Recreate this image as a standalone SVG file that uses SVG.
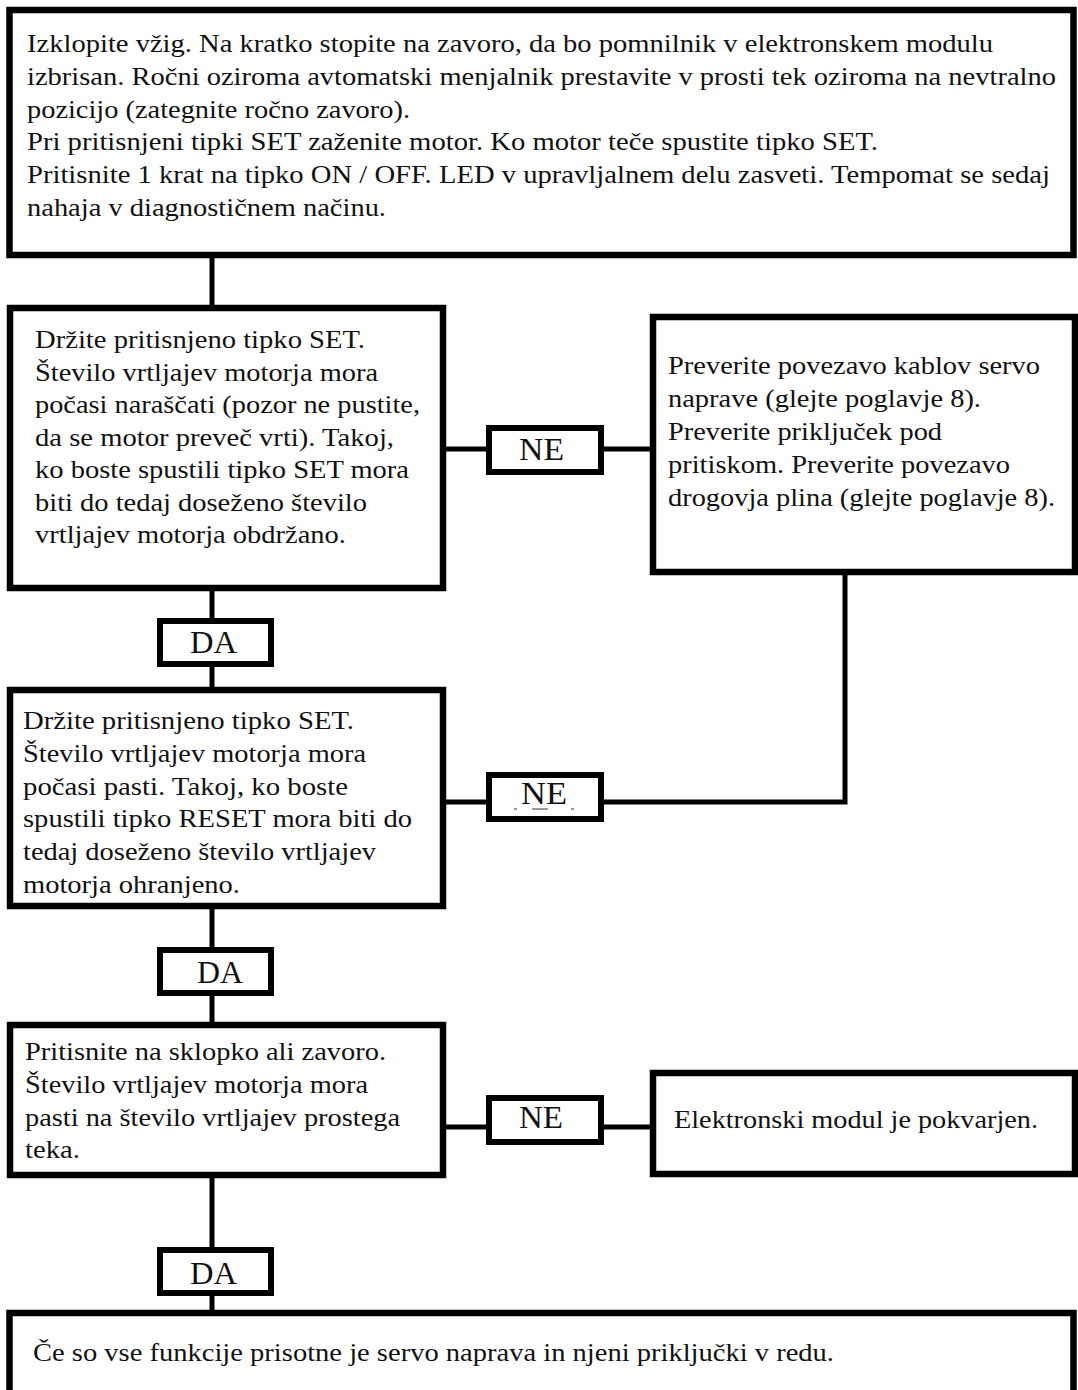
<svg xmlns="http://www.w3.org/2000/svg" width="1078" height="1390" viewBox="0 0 1078 1390">
<style>
.box{fill:#fff;stroke:#000;stroke-width:6.5}
.lbl{fill:#fff;stroke:#000;stroke-width:6}
.con{fill:none;stroke:#000;stroke-width:5}
text{font-family:'Liberation Serif','Times New Roman',Tinos,serif;fill:#111}
.t{font-size:25.5px}
.l{font-size:32px}
</style>
<rect width="1078" height="1390" fill="#fff"/>
<g id="connectors">
<path class="con" d="M212 255V308M212 588V621M212 664V690M212 906V950M212 993V1025M212 1175V1250M212 1293V1313"/>
<path class="con" d="M443 449H489M600 449H653"/>
<path class="con" d="M443 802H489M600 802H845V572"/>
<path class="con" d="M443 1127H489M600 1127H653"/>
</g>
<g id="n_start">
<rect class="box" x="9.5" y="10" width="1064" height="245"/>
<text class="t" x="27" y="52" textLength="966" lengthAdjust="spacingAndGlyphs">Izklopite vžig. Na kratko stopite na zavoro, da bo pomnilnik v elektronskem modulu</text>
<text class="t" x="27" y="85" textLength="1029" lengthAdjust="spacingAndGlyphs">izbrisan. Ročni oziroma avtomatski menjalnik prestavite v prosti tek oziroma na nevtralno</text>
<text class="t" x="27" y="118" textLength="383" lengthAdjust="spacingAndGlyphs">pozicijo (zategnite ročno zavoro).</text>
<text class="t" x="27" y="150" textLength="851" lengthAdjust="spacingAndGlyphs">Pri pritisnjeni tipki SET zaženite motor. Ko motor teče spustite tipko SET.</text>
<text class="t" x="27" y="183" textLength="1023" lengthAdjust="spacingAndGlyphs">Pritisnite 1 krat na tipko ON / OFF. LED v upravljalnem delu zasveti. Tempomat se sedaj</text>
<text class="t" x="27" y="216" textLength="359" lengthAdjust="spacingAndGlyphs">nahaja v diagnostičnem načinu.</text>
</g>
<g id="n_set_up">
<rect class="box" x="10" y="308" width="433" height="280"/>
<text class="t" x="35" y="348" textLength="330" lengthAdjust="spacingAndGlyphs">Držite pritisnjeno tipko SET.</text>
<text class="t" x="35" y="381" textLength="343" lengthAdjust="spacingAndGlyphs">Število vrtljajev motorja mora</text>
<text class="t" x="35" y="413" textLength="385" lengthAdjust="spacingAndGlyphs">počasi naraščati (pozor ne pustite,</text>
<text class="t" x="35" y="446" textLength="359" lengthAdjust="spacingAndGlyphs">da se motor preveč vrti). Takoj,</text>
<text class="t" x="35" y="478" textLength="374" lengthAdjust="spacingAndGlyphs">ko boste spustili tipko SET mora</text>
<text class="t" x="35" y="511" textLength="332" lengthAdjust="spacingAndGlyphs">biti do tedaj doseženo število</text>
<text class="t" x="35" y="543" textLength="311" lengthAdjust="spacingAndGlyphs">vrtljajev motorja obdržano.</text>
</g>
<g id="n_ne1">
<rect class="lbl" x="489" y="428" width="112" height="44"/>
<text class="l" x="519" y="460" textLength="45" lengthAdjust="spacingAndGlyphs">NE</text>
</g>
<g id="n_check">
<rect class="box" x="653" y="317" width="422" height="255"/>
<text class="t" x="668" y="374" textLength="372" lengthAdjust="spacingAndGlyphs">Preverite povezavo kablov servo</text>
<text class="t" x="668" y="407" textLength="313" lengthAdjust="spacingAndGlyphs">naprave (glejte poglavje 8).</text>
<text class="t" x="668" y="440" textLength="274" lengthAdjust="spacingAndGlyphs">Preverite priključek pod</text>
<text class="t" x="668" y="473" textLength="342" lengthAdjust="spacingAndGlyphs">pritiskom. Preverite povezavo</text>
<text class="t" x="668" y="506" textLength="387" lengthAdjust="spacingAndGlyphs">drogovja plina (glejte poglavje 8).</text>
</g>
<g id="n_da1">
<rect class="lbl" x="160" y="621" width="111" height="43"/>
<text class="l" x="190" y="653" textLength="47" lengthAdjust="spacingAndGlyphs">DA</text>
</g>
<g id="n_set_down">
<rect class="box" x="10" y="690" width="433" height="216"/>
<text class="t" x="23" y="729" textLength="331" lengthAdjust="spacingAndGlyphs">Držite pritisnjeno tipko SET.</text>
<text class="t" x="23" y="762" textLength="343" lengthAdjust="spacingAndGlyphs">Število vrtljajev motorja mora</text>
<text class="t" x="23" y="795" textLength="325" lengthAdjust="spacingAndGlyphs">počasi pasti. Takoj, ko boste</text>
<text class="t" x="23" y="827" textLength="389" lengthAdjust="spacingAndGlyphs">spustili tipko RESET mora biti do</text>
<text class="t" x="23" y="860" textLength="353" lengthAdjust="spacingAndGlyphs">tedaj doseženo število vrtljajev</text>
<text class="t" x="23" y="893" textLength="217" lengthAdjust="spacingAndGlyphs">motorja ohranjeno.</text>
</g>
<g id="n_ne2">
<rect class="lbl" x="489" y="775" width="112" height="44"/>
<text class="l" x="521" y="804" textLength="46" lengthAdjust="spacingAndGlyphs">NE</text>
<path d="M514 809H517M532 809H548M571 809H574" stroke="#777" stroke-width="1.5"/>
</g>
<g id="n_da2">
<rect class="lbl" x="160" y="950" width="111" height="43"/>
<text class="l" x="197" y="983" textLength="46" lengthAdjust="spacingAndGlyphs">DA</text>
</g>
<g id="n_brake">
<rect class="box" x="10" y="1025" width="433" height="150"/>
<text class="t" x="25" y="1060" textLength="361" lengthAdjust="spacingAndGlyphs">Pritisnite na sklopko ali zavoro.</text>
<text class="t" x="25" y="1093" textLength="343" lengthAdjust="spacingAndGlyphs">Število vrtljajev motorja mora</text>
<text class="t" x="25" y="1126" textLength="375" lengthAdjust="spacingAndGlyphs">pasti na število vrtljajev prostega</text>
<text class="t" x="25" y="1158" textLength="55" lengthAdjust="spacingAndGlyphs">teka.</text>
</g>
<g id="n_ne3">
<rect class="lbl" x="489" y="1098" width="112" height="44"/>
<text class="l" x="519" y="1128" textLength="44" lengthAdjust="spacingAndGlyphs">NE</text>
</g>
<g id="n_broken">
<rect class="box" x="653" y="1073" width="422" height="101"/>
<text class="t" x="674" y="1128" textLength="364" lengthAdjust="spacingAndGlyphs">Elektronski modul je pokvarjen.</text>
</g>
<g id="n_da3">
<rect class="lbl" x="160" y="1250" width="111" height="43"/>
<text class="l" x="190" y="1284" textLength="47" lengthAdjust="spacingAndGlyphs">DA</text>
</g>
<g id="n_ok">
<rect class="box" x="9.5" y="1313" width="1064" height="90"/>
<text class="t" x="33" y="1361" textLength="801" lengthAdjust="spacingAndGlyphs">Če so vse funkcije prisotne je servo naprava in njeni priključki v redu.</text>
</g>
</svg>
